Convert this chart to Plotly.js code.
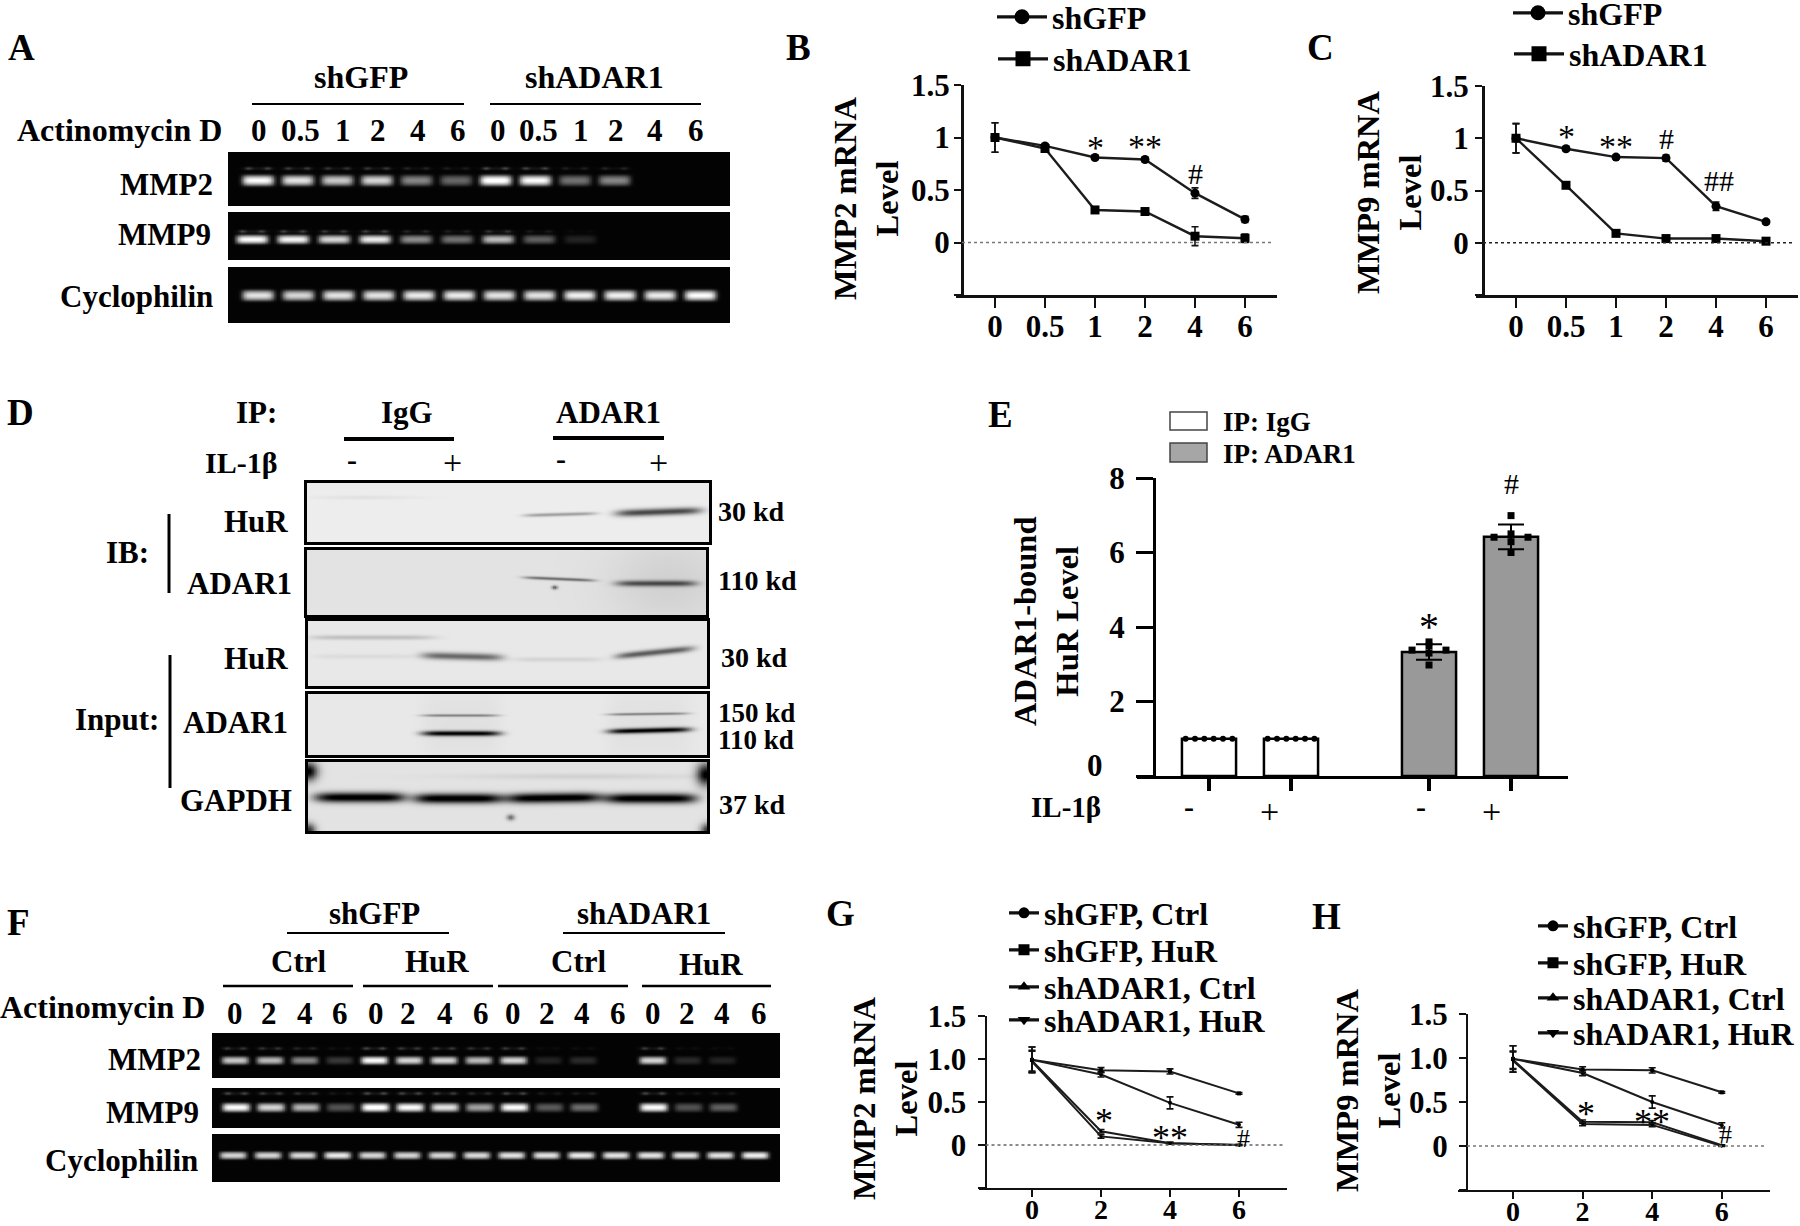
<!DOCTYPE html>
<html>
<head>
<meta charset="utf-8">
<script src="https://cdn.plot.ly/plotly-3.0.1.min.js"></script>
<style>html,body{margin:0;padding:0;background:#fff}#chart{width:1800px;height:1226px}</style>
</head>
<body>
<div id="chart"></div>
<script>
/* ---------- values ---------- */
const timesBC = ["0","0.5","1","2","4","6"];
const timesGH = ["0","2","4","6"];

const bGFP = [1.0,0.92,0.81,0.79,0.47,0.22];
const bGFPerr = [0.14,0.02,0.02,0.02,0.05,0.03];
const bADAR = [1.0,0.895,0.31,0.295,0.06,0.04];
const bADARerr = [0.14,0.03,0.02,0.02,0.09,0.04];

const cGFP = [1.0,0.90,0.82,0.81,0.35,0.20];
const cGFPerr = [0.14,0.02,0.02,0.03,0.04,0.02];
const cADAR = [1.0,0.55,0.09,0.04,0.04,0.015];
const cADARerr = [0.14,0.02,0.02,0.02,0.03,0.02];

const gSeries1 = [0.99,0.82,0.49,0.235];
const gSeries2 = [0.99,0.87,0.855,0.60];
const gSeries3 = [0.98,0.16,0.02,0.0];
const gSeries4 = [0.97,0.10,0.02,0.0];
const gErr1 = [0.15,0.03,0.07,0.03];
const gErr2 = [0.15,0.03,0.03,0.01];
const gErr3 = [0.12,0.02,0.01,0.005];
const gErr4 = [0.12,0.02,0.01,0.005];

const hSeries1 = [0.99,0.83,0.50,0.235];
const hSeries2 = [0.99,0.87,0.86,0.61];
const hSeries3 = [0.98,0.275,0.27,0.01];
const hSeries4 = [0.97,0.25,0.24,0.0];
const hErr1 = [0.15,0.03,0.07,0.03];
const hErr2 = [0.15,0.03,0.03,0.01];
const hErr3 = [0.10,0.02,0.02,0.005];
const hErr4 = [0.10,0.02,0.02,0.005];

const legendABC = ["shGFP","shADAR1"];
const legendGH = ["shGFP, Ctrl","shGFP, HuR","shADAR1, Ctrl","shADAR1, HuR"];

const eSlots = [0,1,2.683,3.683];
const eIgG = [1,1];
const eADAR = [3.33,6.42];
const eADARerr = [0.21,0.33];
const eIgGOffsets = [-0.285,-0.171,-0.057,0.057,0.171,0.285];
const eDotsIgG = [1,1,1,1,1,1];
const eOffsets = [-0.207,0,0,0,0,0.207];
const eDotsMinus = [3.38,3.49,3.30,2.98,3.60,3.38];
const eDotsPlus = [6.41,6.99,6.50,6.29,6.0,6.41];

/* gel band brightness per lane */
const aMMP2 = [0.95,0.85,0.75,0.8,0.5,0.38,1,0.95,0.42,0.5,0,0];
const aMMP9 = [0.95,0.92,0.8,0.88,0.52,0.42,0.7,0.35,0.12,0,0,0];
const aCyc = [0.85,0.8,0.85,0.85,0.88,0.88,0.85,0.85,0.9,0.9,0.88,0.95];
const fMMP2 = [0.75,0.7,0.5,0.2,0.95,0.8,0.8,0.7,0.8,0.12,0.15,0,0.8,0.15,0.12,0];
const fMMP9 = [0.95,0.8,0.68,0.3,1,0.95,0.85,0.6,0.95,0.33,0.4,0,0.95,0.3,0.35,0];
const fCyc = [0.8,0.8,0.82,0.88,0.8,0.8,0.8,0.82,0.85,0.85,0.88,0.85,0.85,0.85,0.85,0.9];

/* western blot bands: x from, x to, y left, y right, half height, darkness, soft edge */
const blotHuR1 = [[7,106,14,14,2,0.05,1],[216,289,32,30,1.8,0.3],[308,394,30,27,3.6,0.65]];
const blotADAR1 = [[216,287,27,30,1.6,0.45],[308,389,33,33,3,0.55],[244,250,37,37,2,0.5,1],[300,420,32,32,45,0.07,1]];
const blotHuR2 = [[1,126,16,16,2.4,0.16],[6,110,35,35,2.4,0.05],[113,194,34,36,3.6,0.5],[205,293,38,38,2.4,0.08],[307,385,35,27,3.2,0.55]];
const blotADAR2 = [[113,192,30,30,40,0.03],[299,382,30,30,40,0.03],[113,190,21,21,1.4,0.36],[113,192,39,39,2.6,0.9],[299,380,20,19,1.4,0.36],[299,382,37,35,2.6,0.9]];
const blotGAPDH = [[6,97,35,35,5,0.95],[105,194,36,36,5,0.95],[197,293,36,35,5,0.95],[296,388,36,36,5,0.95],[-9,9,9,9,9,0.9,1],[388,406,12,12,11,0.9,1],[-7,7,68,68,7,0.7,1],[392,406,68,68,7,0.7,1],[198,206,55,55,3,0.45,1],[150,390,14,14,3,0.07,1]];

/* ---------- helpers ---------- */
const W = 1800, H = 1226;
const FONT = "Liberation Serif";
const px = x => x / W;
const py = y => 1 - y / H;
const traces = [], annotations = [], shapes = [];
const layout = {
  width: W, height: H, autosize: false, showlegend: true,
  margin: {l:0,r:0,t:0,b:0,pad:0,autoexpand:false},
  paper_bgcolor: "#fff", plot_bgcolor: "rgba(0,0,0,0)",
  font: {family: FONT, color: "#000"}, hovermode: false,
  annotations, shapes
};
const label = (text,x,y,anchor="center",size=31,bold=true) => annotations.push({
  xref:"paper",yref:"paper",x:px(x),y:py(y),xanchor:anchor,yanchor:"middle",showarrow:false,
  text: bold ? "<b>"+text+"</b>" : text, font:{family:FONT,size,color:"#000"}
});
const yTitle = (text,x,y,size=32.5) => annotations.push({
  xref:"paper",yref:"paper",x:px(x),y:py(y),xanchor:"center",yanchor:"middle",showarrow:false,textangle:-90,
  text:"<b>"+text+"</b>",font:{family:FONT,size,color:"#000"},align:"center"
});
const hBar = (x0,x1,y,w=2) => shapes.push({type:"line",xref:"paper",yref:"paper",x0:px(x0),x1:px(x1),y0:py(y),y1:py(y),line:{color:"#000",width:w}});
const vBar = (x,y0,y1,w=3) => shapes.push({type:"line",xref:"paper",yref:"paper",x0:px(x),x1:px(x),y0:py(y0),y1:py(y1),line:{color:"#000",width:w}});

let legendCount = 0;
function legendSlot(x,y,itemwidth){
  legendCount++;
  const key = legendCount===1 ? "legend" : "legend"+legendCount;
  layout[key] = {x:px(x),y:py(y),xanchor:"left",yanchor:"middle",bgcolor:"rgba(0,0,0,0)",borderwidth:0,
    itemwidth,font:{family:FONT,size:32,color:"#000",weight:"bold"},itemclick:false,itemdoubleclick:false};
  return key;
}

function lineChart(n,cfg){
  const xa = n===1?"x":"x"+n, ya = n===1?"y":"y"+n;
  const xKey = n===1?"xaxis":"xaxis"+n, yKey = n===1?"yaxis":"yaxis"+n;
  const f = cfg.frame;
  layout[xKey] = {domain:[px(f.x0),px(f.x1)],anchor:ya,type:"category",categoryorder:"array",categoryarray:cfg.cats,
    range:[(f.x0-f.first)/f.step,(f.x1-f.first)/f.step],showgrid:false,zeroline:false,
    showline:true,linecolor:"#111",linewidth:f.lw,ticks:"outside",ticklen:f.xtick,tickwidth:2,tickcolor:"#111",
    tickfont:{family:FONT,size:f.xFont||31,color:"#000",weight:"bold"},ticklabelstandoff:f.xStand,fixedrange:true};
  layout[yKey] = {domain:[py(f.yBot),py(f.yTop)],anchor:"free",position:px(f.axisX),side:"left",range:[-0.5,1.5],
    tickmode:"array",tickvals:[-0.5,0,0.5,1,1.5],ticktext:cfg.yLabels,showgrid:false,zeroline:false,
    showline:true,linecolor:"#111",linewidth:f.lw,ticks:"outside",ticklen:7,tickwidth:2,tickcolor:"#111",
    tickfont:{family:FONT,size:31,color:"#000",weight:"bold"},ticklabelstandoff:f.yStand,fixedrange:true};
  shapes.push({type:"line",xref:"paper",yref:ya,x0:px(f.axisX),x1:px(f.x1-3),y0:0,y1:0,line:{color:cfg.zeroColor,width:1.6,dash:"dot"}});
  cfg.series.forEach((s,i)=>{
    traces.push({type:"scatter",mode:"lines+markers",x:cfg.cats,y:s.y,name:s.name,xaxis:xa,yaxis:ya,showlegend:false,
      line:{color:"#1c1c1c",width:f.lineW},marker:{symbol:s.symbol,size:cfg.markerSize,color:"#000"},
      error_y:{type:"data",array:s.err,visible:true,color:"#111",thickness:1.6,width:3.5},
      cliponaxis:false,hoverinfo:"skip"});
    /* legend key: same series name, larger glyph as in the reference's key */
    traces.push({type:"scatter",mode:"lines+markers",x:[null],y:[null],name:s.name,xaxis:xa,yaxis:ya,showlegend:true,
      line:{color:"#111",width:3.2},marker:{symbol:s.symbol,size:cfg.keySize,color:"#000"},
      legend:legendSlot(s.lx,s.ly,cfg.itemwidth),hoverinfo:"skip"});
  });
  cfg.marks.forEach(m=>annotations.push({xref:xa,yref:ya,x:cfg.cats.indexOf(m[1]),y:m[2],text:m[0],showarrow:false,
    xanchor:"center",yanchor:"middle",xshift:m[4]||0,yshift:m[0].startsWith("*")?-5:0,font:{family:FONT,size:m[3]||30,color:"#000"}}));
}

function gel(n,cfg,values){
  const w = cfg.right-cfg.left, h = cfg.bottom-cfg.top;
  const xs=[],ys=[],z=[];
  for(let i=0;i<=Math.round(w/1.5);i++) xs.push(i*1.5/cfg.step + (cfg.left-cfg.first)/cfg.step);
  for(let j=0;j<=Math.round(h/1);j++) ys.push(j);
  ys.forEach(yy=>{
    const row=[];
    xs.forEach(xx=>{
      const p = cfg.first+xx*cfg.step;
      let v=0.012;
      values.forEach((val,k)=>{
        if(!val) return;
        const lx=cfg.first+k*cfg.step;
        const ux=(p-lx)/cfg.hw, uy=(cfg.top+yy-cfg.by)/(cfg.hh*1.1);
        v+=val*Math.exp(-Math.pow(ux*ux,3))*(0.75*Math.exp(-uy*uy*uy*uy)+0.28*Math.exp(-4*uy*uy));
        if(cfg.fy){
          const uf=(cfg.top+yy-cfg.fy)/1.6;
          const d1=(p-lx-cfg.hw*0.6)/3.5, d2=(p-lx+cfg.hw*0.6)/3.5, d3=(p-lx)/cfg.hw;
          v+=0.2*val*Math.exp(-uf*uf)*(Math.exp(-d1*d1)+Math.exp(-d2*d2)+0.35*Math.exp(-d3*d3*d3*d3));
        }
      });
      row.push(Math.min(1,v));
    });
    z.push(row);
  });
  const xKey="xaxis"+n,yKey="yaxis"+n;
  traces.push({type:"heatmap",x:xs,y:ys,z,xaxis:"x"+n,yaxis:"y"+n,zmin:0,zmax:1,zsmooth:"best",
    colorscale:[[0,"#000"],[1,"#fff"]],showscale:false,hoverinfo:"skip",showlegend:false});
  layout[xKey]={domain:[px(cfg.left),px(cfg.right)],anchor:"y"+n,visible:false,range:[xs[0],xs[xs.length-1]],fixedrange:true};
  layout[yKey]={domain:[py(cfg.bottom),py(cfg.top)],anchor:"x"+n,visible:false,range:[h,0],fixedrange:true};
}

function blot(n,cfg,bands){
  const w=cfg.right-cfg.left,h=cfg.bottom-cfg.top;
  const xs=[],ys=[],z=[];
  for(let i=0;i<=Math.round(w/1.5);i++) xs.push(i*1.5);
  for(let j=0;j<=h;j++) ys.push(j);
  ys.forEach(yy=>{
    const row=[];
    xs.forEach(xx=>{
      let v=cfg.bg;
      bands.forEach(b=>{
        const cx=(b[0]+b[1])/2,hw=(b[1]-b[0])/2,ux=(xx-cx)/hw;
        const ly=b[2]+(b[3]-b[2])*(xx-b[0])/(b[1]-b[0]);
        const uy=(yy-ly)/b[4];
        const fx=b[6]?Math.exp(-ux*ux):Math.exp(-Math.pow(ux*ux,3));
        v-=b[5]*fx*Math.exp(-uy*uy);
      });
      row.push(Math.max(0,v));
    });
    z.push(row);
  });
  const xKey="xaxis"+n,yKey="yaxis"+n;
  traces.push({type:"heatmap",x:xs,y:ys,z,xaxis:"x"+n,yaxis:"y"+n,zmin:0,zmax:1,zsmooth:"best",
    colorscale:[[0,"#000"],[1,"#fff"]],showscale:false,hoverinfo:"skip",showlegend:false});
  const axisStyle={showline:true,mirror:true,linecolor:"#000",linewidth:3,showticklabels:false,ticks:"",showgrid:false,zeroline:false,fixedrange:true};
  layout[xKey]=Object.assign({domain:[px(cfg.left),px(cfg.right)],anchor:"y"+n,range:[0,xs[xs.length-1]]},axisStyle);
  layout[yKey]=Object.assign({domain:[py(cfg.bottom),py(cfg.top)],anchor:"x"+n,range:[h,0]},axisStyle);
}

/* ---------- line charts ---------- */
lineChart(1,{cats:timesBC,yLabels:["","0","0.5","1","1.5"],zeroColor:"#777",markerSize:9,keySize:15,itemwidth:50,
  frame:{x0:956,x1:1277,yTop:85,yBot:295,axisX:962,first:995,step:50,lw:2.5,xtick:10,xStand:-8,yStand:-2,lineW:2.4},
  series:[{name:legendABC[0],y:bGFP,err:bGFPerr,symbol:"circle",lx:992,ly:17},
          {name:legendABC[1],y:bADAR,err:bADARerr,symbol:"square",lx:993,ly:59}],
  marks:[["*","1",0.95,34],["**","2",0.96,34],["#","4",0.66]]});
lineChart(2,{cats:timesBC,yLabels:["","0","0.5","1","1.5"],zeroColor:"#222",markerSize:9,keySize:15,itemwidth:50,
  frame:{x0:1476,x1:1798,yTop:86,yBot:295,axisX:1483,first:1516,step:50,lw:2.5,xtick:10,xStand:-8,yStand:0,lineW:2.4},
  series:[{name:legendABC[0],y:cGFP,err:cGFPerr,symbol:"circle",lx:1508,ly:13},
          {name:legendABC[1],y:cADAR,err:cADARerr,symbol:"square",lx:1509,ly:54}],
  marks:[["*","0.5",1.06,34],["**","1",0.97,34],["#","2",1.0],["##","4",0.6,30,3]]});
lineChart(4,{cats:timesGH,yLabels:["","0","0.5","1.0","1.5"],zeroColor:"#666",markerSize:4,keySize:11,itemwidth:30,
  frame:{x0:979,x1:1287,yTop:1016,yBot:1188,axisX:985.5,first:1032,step:69,lw:2,xtick:7,xStand:-12,xFont:28,yStand:5,lineW:2},
  series:[{name:legendGH[0],y:gSeries1,err:gErr1,symbol:"circle",lx:1004,ly:913},
          {name:legendGH[1],y:gSeries2,err:gErr2,symbol:"square",lx:1004,ly:950},
          {name:legendGH[2],y:gSeries3,err:gErr3,symbol:"triangle-up",lx:1004,ly:987},
          {name:legendGH[3],y:gSeries4,err:gErr4,symbol:"triangle-down",lx:1004,ly:1020}],
  marks:[["*","2",0.335,36,3],["**","4",0.14,36],["#","6",0.08,26,4]]});
lineChart(5,{cats:timesGH,yLabels:["","0","0.5","1.0","1.5"],zeroColor:"#777",markerSize:4,keySize:11,itemwidth:30,
  frame:{x0:1458,x1:1770,yTop:1014,yBot:1190,axisX:1467,first:1513,step:69.6,lw:2,xtick:7,xStand:-12,xFont:28,yStand:5,lineW:2},
  series:[{name:legendGH[0],y:hSeries1,err:hErr1,symbol:"circle",lx:1533,ly:926},
          {name:legendGH[1],y:hSeries2,err:hErr2,symbol:"square",lx:1533,ly:963},
          {name:legendGH[2],y:hSeries3,err:hErr3,symbol:"triangle-up",lx:1533,ly:998},
          {name:legendGH[3],y:hSeries4,err:hErr4,symbol:"triangle-down",lx:1533,ly:1033}],
  marks:[["*","2",0.42,36,3],["**","4",0.335,36],["#","6",0.13,26,4]]});

/* ---------- bar chart E ---------- */
traces.push({type:"bar",x:eSlots.slice(0,2),y:eIgG,width:0.66,xaxis:"x3",yaxis:"y3",name:"IP: IgG",showlegend:false,
  marker:{color:"#fff",line:{color:"#000",width:2.5}},hoverinfo:"skip"});
traces.push({type:"bar",x:eSlots.slice(2),y:eADAR,width:0.66,xaxis:"x3",yaxis:"y3",name:"IP: ADAR1",showlegend:false,
  marker:{color:"#999999",line:{color:"#000",width:2.5}},
  error_y:{type:"data",array:eADARerr,visible:true,color:"#000",thickness:2,width:13},hoverinfo:"skip"});
[[0,eDotsIgG,eIgGOffsets,"circle",6],[1,eDotsIgG,eIgGOffsets,"circle",6],[2,eDotsMinus,eOffsets,"square",7],[3,eDotsPlus,eOffsets,"square",7]].forEach(d=>{
  traces.push({type:"scatter",mode:"markers",x:d[1].map((_,i)=>eSlots[d[0]]+d[2][i]),y:d[1],xaxis:"x3",yaxis:"y3",showlegend:false,
    marker:{symbol:d[3],size:d[4],color:"#000"},cliponaxis:false,hoverinfo:"skip"});
});
layout.barmode="overlay";
layout.xaxis3={domain:[px(1137),px(1568)],anchor:"y3",range:[-0.878,4.378],tickmode:"array",tickvals:eSlots,ticktext:["","","",""],
  showgrid:false,zeroline:false,showline:true,linecolor:"#000",linewidth:3,ticks:"outside",ticklen:12,tickwidth:3.5,tickcolor:"#000",fixedrange:true};
layout.yaxis3={domain:[py(776),py(478)],anchor:"free",position:px(1154),side:"left",range:[0,8],tickmode:"array",tickvals:[0,2,4,6,8],ticktext:[" ","2","4","6","8"],
  showgrid:false,zeroline:false,showline:true,linecolor:"#000",linewidth:3,ticks:"outside",ticklen:17,tickwidth:3,tickcolor:"#000",
  tickfont:{family:FONT,size:31,color:"#000",weight:"bold"},ticklabelstandoff:5,fixedrange:true};
annotations.push({xref:"x3",yref:"y3",x:eSlots[2],y:4.1,text:"*",showarrow:false,yshift:-3,font:{family:FONT,size:40,color:"#000"}});
annotations.push({xref:"x3",yref:"y3",x:eSlots[3],y:7.85,text:"#",showarrow:false,font:{family:FONT,size:30,color:"#000"}});
shapes.push({type:"rect",xref:"paper",yref:"paper",x0:px(1170),x1:px(1207),y0:py(430),y1:py(412),fillcolor:"#fff",line:{color:"#444",width:1.5}});
shapes.push({type:"rect",xref:"paper",yref:"paper",x0:px(1170),x1:px(1207),y0:py(462),y1:py(443),fillcolor:"#a6a6a6",line:{color:"#444",width:1.5}});
label("IP: IgG",1221,422,"left",27);
label("IP: ADAR1",1221,454,"left",27);
label("0",1105,765,"right",31);
label("IL-1β",1103,807,"right",29);
label("-",1189,806,"center",30);
label("+",1269,811,"center",34,false);
label("-",1421,806,"center",30);
label("+",1491,811,"center",34,false);
yTitle("ADAR1-bound<br>HuR Level",1046,621);
yTitle("MMP2 mRNA<br>Level",866,198);
yTitle("MMP9 mRNA<br>Level",1389,192);
yTitle("MMP2 mRNA<br>Level",885,1098);
yTitle("MMP9 mRNA<br>Level",1368,1090);

/* ---------- gels ---------- */
gel(6,{left:228,right:730,top:152,bottom:206,first:258,step:39.6,hw:16,hh:5,by:180,fy:168},aMMP2);
gel(7,{left:228,right:730,top:212,bottom:260,first:252,step:41,hw:16,hh:4.2,by:239,fy:231},aMMP9);
gel(8,{left:228,right:730,top:267,bottom:323,first:258,step:40.2,hw:16,hh:5,by:295},aCyc);
gel(9,{left:212,right:780,top:1033,bottom:1078,first:235,step:34.8,hw:13.5,hh:3.8,by:1060,fy:1048},fMMP2);
gel(10,{left:212,right:780,top:1088,bottom:1128,first:236,step:34.8,hw:14,hh:4.2,by:1107,fy:1093},fMMP9);
gel(11,{left:212,right:780,top:1134,bottom:1182,first:233,step:34.8,hw:13.5,hh:3.6,by:1155},fCyc);

/* ---------- blots ---------- */
blot(12,{left:307,right:709,top:483,bottom:542,bg:0.93},blotHuR1);
blot(13,{left:307,right:706,top:550,bottom:615,bg:0.89},blotADAR1);
blot(14,{left:308,right:707,top:621,bottom:686,bg:0.91},blotHuR2);
blot(15,{left:308,right:707,top:694,bottom:755,bg:0.91},blotADAR2);
blot(16,{left:308,right:707,top:762,bottom:831,bg:0.89},blotGAPDH);

/* ---------- panel A text ---------- */
label("A",21,47,"center",37);
label("shGFP",361,77,"center",32);
label("shADAR1",594,77,"center",32);
hBar(252,464,104,2);
hBar(490,701,104,2);
label("Actinomycin D",224,130,"right",32);
[["0",259],["0.5",300],["1",343],["2",378],["4",418],["6",458],["0",498],["0.5",538],["1",581],["2",616],["4",655],["6",696]]
  .forEach(t=>label(t[0],t[1],130,"center",31));
label("MMP2",215,185,"right",31);
label("MMP9",213,235,"right",31);
label("Cyclophilin",215,296,"right",31);

/* ---------- panel letters ---------- */
label("B",798,47,"center",37);
label("C",1320,47,"center",37);
label("D",20,412,"center",37);
label("E",1000,415,"center",37);
label("F",18,922,"center",37);
label("G",840,913,"center",37);
label("H",1326,917,"center",37);

/* ---------- panel D text ---------- */
label("IP:",279,412,"right",31);
label("IgG",407,412,"center",31);
label("ADAR1",608,412,"center",31);
hBar(344,454,439,4);
hBar(553,664,438,4);
label("IL-1β",279,462,"right",30);
label("-",352,460,"center",30);
label("+",452,463,"center",34,false);
label("-",561,458,"center",30);
label("+",658,462,"center",34,false);
label("HuR",290,522,"right",31);
label("ADAR1",294,584,"right",31);
label("HuR",290,658,"right",31);
label("ADAR1",290,723,"right",31);
label("GAPDH",294,801,"right",31);
label("IB:",151,552,"right",31);
label("Input:",161,719,"right",31);
vBar(169,514,593);
vBar(170,655,788);
label("30 kd",716,512,"left",28);
label("110 kd",716,580,"left",28);
label("30 kd",719,657,"left",28);
label("150 kd",716,713,"left",27);
label("110 kd",716,740,"left",27);
label("37 kd",717,804,"left",28);

/* ---------- panel F text ---------- */
label("shGFP",374,913,"center",31);
label("shADAR1",644,913,"center",31);
hBar(287,449,933,2);
hBar(563,725,933,2);
label("Ctrl",298,962,"center",31);
label("HuR",437,962,"center",31);
label("Ctrl",578,962,"center",31);
label("HuR",711,964,"center",31);
hBar(223,353,986,2.5);
hBar(363,493,986,2.5);
hBar(498,628,986,2.5);
hBar(642,771,986,2.5);
label("Actinomycin D",207,1007,"right",32);
[["0",235],["2",269],["4",305],["6",340],["0",376],["2",408],["4",445],["6",481],["0",513],["2",547],["4",582],["6",618],["0",653],["2",687],["4",722],["6",759]]
  .forEach(t=>label(t[0],t[1],1013,"center",31));
label("MMP2",203,1059,"right",31);
label("MMP9",201,1112,"right",31);
label("Cyclophilin",200,1160,"right",31);

Plotly.newPlot("chart",traces,layout,{displayModeBar:false,staticPlot:true,responsive:false});
</script>
</body>
</html>
